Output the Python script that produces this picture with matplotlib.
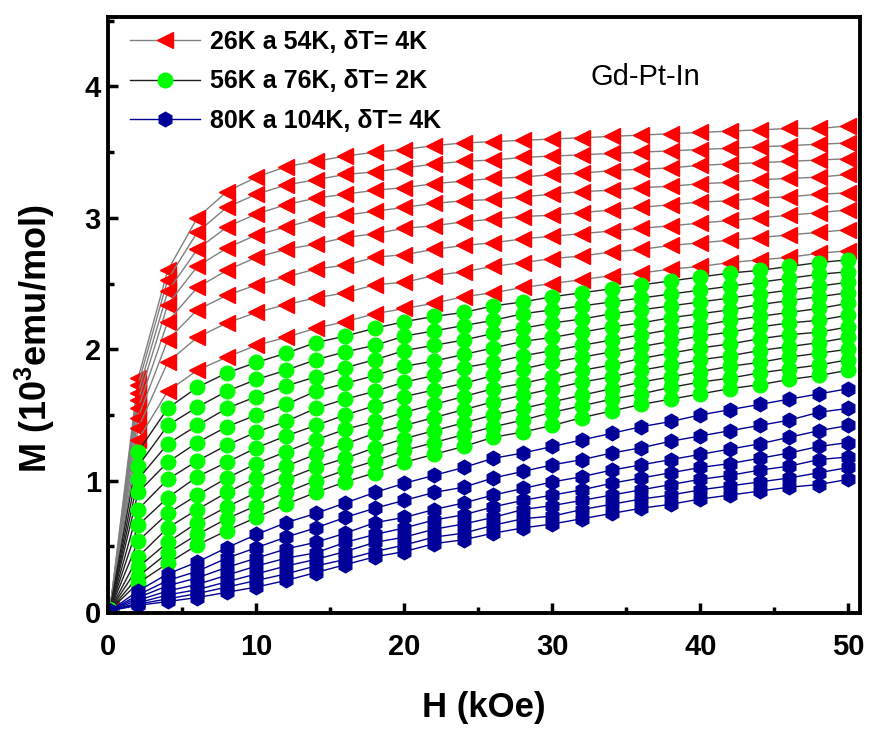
import matplotlib
matplotlib.use("Agg")
import matplotlib.pyplot as plt
from matplotlib.ticker import MultipleLocator

plt.rcParams['font.family'] = ['Liberation Sans', 'DejaVu Sans']
plt.rcParams['mathtext.fontset'] = 'custom'
plt.rcParams['mathtext.rm'] = 'Liberation Sans'
plt.rcParams['mathtext.bf'] = 'Liberation Sans:bold'

# field values (kOe)
h = [0.1, 2, 4, 6, 8, 10, 12, 14, 16, 18, 20, 22, 24, 26, 28, 30,
     32, 34, 36, 38, 40, 42, 44, 46, 48, 50]

# 26K a 54K, dT = 4K
m_red = [
    [0.02, 1.78, 2.60, 3.00, 3.20, 3.31, 3.39, 3.43, 3.47, 3.50, 3.52, 3.55, 3.57, 3.58, 3.59, 3.60, 3.61, 3.62, 3.63, 3.64, 3.65, 3.66, 3.67, 3.68, 3.68, 3.70],
    [0.02, 1.73, 2.53, 2.89, 3.08, 3.18, 3.25, 3.29, 3.33, 3.35, 3.38, 3.41, 3.43, 3.44, 3.46, 3.47, 3.48, 3.49, 3.50, 3.51, 3.52, 3.53, 3.54, 3.55, 3.56, 3.57],
    [0.02, 1.67, 2.44, 2.76, 2.93, 3.03, 3.10, 3.15, 3.18, 3.21, 3.23, 3.26, 3.28, 3.30, 3.31, 3.33, 3.34, 3.36, 3.37, 3.38, 3.40, 3.41, 3.42, 3.43, 3.44, 3.45],
    [0.02, 1.61, 2.34, 2.63, 2.77, 2.87, 2.93, 2.99, 3.02, 3.05, 3.08, 3.11, 3.13, 3.14, 3.16, 3.18, 3.20, 3.21, 3.23, 3.24, 3.26, 3.27, 3.29, 3.30, 3.31, 3.33],
    [0.02, 1.55, 2.21, 2.47, 2.60, 2.70, 2.76, 2.80, 2.85, 2.88, 2.92, 2.94, 2.97, 2.99, 3.01, 3.02, 3.04, 3.06, 3.08, 3.10, 3.12, 3.13, 3.15, 3.16, 3.18, 3.19],
    [0.02, 1.48, 2.07, 2.30, 2.41, 2.49, 2.55, 2.61, 2.64, 2.70, 2.72, 2.76, 2.79, 2.81, 2.84, 2.86, 2.88, 2.90, 2.92, 2.94, 2.96, 2.98, 3.00, 3.02, 3.04, 3.06],
    [0.02, 1.40, 1.90, 2.09, 2.20, 2.28, 2.34, 2.39, 2.43, 2.49, 2.51, 2.56, 2.59, 2.63, 2.66, 2.69, 2.71, 2.74, 2.76, 2.79, 2.81, 2.83, 2.85, 2.87, 2.89, 2.91],
    [0.02, 1.31, 1.68, 1.84, 1.94, 2.03, 2.09, 2.16, 2.21, 2.27, 2.31, 2.35, 2.40, 2.43, 2.47, 2.50, 2.53, 2.56, 2.58, 2.61, 2.63, 2.66, 2.68, 2.70, 2.73, 2.75],
]

# 56K a 76K, dT = 2K
m_green = [
    [0.015, 1.22, 1.55, 1.71, 1.82, 1.90, 1.97, 2.05, 2.10, 2.16, 2.21, 2.25, 2.28, 2.33, 2.36, 2.40, 2.43, 2.46, 2.49, 2.52, 2.55, 2.58, 2.60, 2.63, 2.66, 2.68],
    [0.015, 1.11, 1.42, 1.56, 1.68, 1.77, 1.84, 1.92, 1.98, 2.03, 2.10, 2.14, 2.18, 2.22, 2.27, 2.30, 2.33, 2.36, 2.39, 2.42, 2.45, 2.48, 2.51, 2.54, 2.57, 2.59],
    [0.015, 1.01, 1.28, 1.42, 1.55, 1.64, 1.72, 1.79, 1.86, 1.92, 1.99, 2.03, 2.07, 2.12, 2.16, 2.20, 2.23, 2.27, 2.30, 2.33, 2.36, 2.39, 2.42, 2.45, 2.48, 2.51],
    [0.015, 0.91, 1.14, 1.29, 1.41, 1.50, 1.58, 1.68, 1.74, 1.80, 1.87, 1.91, 1.96, 2.01, 2.06, 2.09, 2.13, 2.17, 2.20, 2.24, 2.27, 2.30, 2.34, 2.37, 2.40, 2.43],
    [0.015, 0.78, 1.01, 1.15, 1.27, 1.37, 1.45, 1.55, 1.62, 1.68, 1.75, 1.80, 1.86, 1.90, 1.95, 1.99, 2.03, 2.07, 2.11, 2.15, 2.18, 2.22, 2.25, 2.28, 2.31, 2.35],
    [0.015, 0.66, 0.87, 1.03, 1.14, 1.25, 1.34, 1.42, 1.50, 1.57, 1.64, 1.69, 1.74, 1.80, 1.85, 1.90, 1.94, 1.98, 2.02, 2.06, 2.10, 2.13, 2.17, 2.20, 2.22, 2.26],
    [0.015, 0.54, 0.75, 0.89, 1.02, 1.13, 1.22, 1.31, 1.39, 1.45, 1.52, 1.58, 1.64, 1.70, 1.74, 1.79, 1.84, 1.88, 1.93, 1.97, 2.01, 2.04, 2.08, 2.11, 2.13, 2.17],
    [0.015, 0.42, 0.64, 0.78, 0.91, 1.02, 1.11, 1.20, 1.28, 1.36, 1.42, 1.48, 1.54, 1.60, 1.65, 1.70, 1.75, 1.79, 1.84, 1.88, 1.92, 1.95, 1.99, 2.02, 2.05, 2.09],
    [0.015, 0.34, 0.53, 0.68, 0.80, 0.91, 1.01, 1.10, 1.17, 1.25, 1.32, 1.38, 1.44, 1.50, 1.55, 1.60, 1.65, 1.70, 1.75, 1.79, 1.83, 1.87, 1.90, 1.94, 1.97, 2.00],
    [0.015, 0.27, 0.45, 0.59, 0.71, 0.81, 0.91, 1.00, 1.08, 1.15, 1.23, 1.29, 1.35, 1.41, 1.46, 1.52, 1.57, 1.62, 1.66, 1.71, 1.75, 1.78, 1.82, 1.85, 1.88, 1.92],
    [0.015, 0.22, 0.37, 0.51, 0.62, 0.72, 0.82, 0.91, 0.99, 1.06, 1.14, 1.20, 1.26, 1.33, 1.37, 1.42, 1.48, 1.53, 1.58, 1.62, 1.66, 1.70, 1.73, 1.77, 1.80, 1.84],
]

# 80K a 104K, dT = 4K
m_blue = [
    [0.01, 0.16, 0.29, 0.38, 0.49, 0.59, 0.68, 0.75, 0.83, 0.91, 0.98, 1.04, 1.10, 1.17, 1.21, 1.26, 1.31, 1.36, 1.41, 1.45, 1.50, 1.54, 1.58, 1.62, 1.66, 1.70],
    [0.01, 0.13, 0.24, 0.31, 0.41, 0.49, 0.57, 0.64, 0.72, 0.79, 0.85, 0.91, 0.95, 1.02, 1.07, 1.12, 1.16, 1.21, 1.25, 1.30, 1.34, 1.38, 1.42, 1.46, 1.52, 1.55],
    [0.01, 0.11, 0.20, 0.26, 0.34, 0.41, 0.48, 0.53, 0.60, 0.68, 0.72, 0.78, 0.83, 0.89, 0.94, 0.99, 1.03, 1.08, 1.12, 1.16, 1.20, 1.24, 1.28, 1.33, 1.38, 1.42],
    [0.01, 0.09, 0.16, 0.21, 0.28, 0.35, 0.41, 0.45, 0.53, 0.59, 0.64, 0.70, 0.74, 0.80, 0.85, 0.89, 0.93, 0.98, 1.02, 1.06, 1.10, 1.13, 1.17, 1.21, 1.26, 1.29],
    [0.01, 0.07, 0.13, 0.17, 0.23, 0.29, 0.35, 0.40, 0.46, 0.53, 0.57, 0.63, 0.67, 0.72, 0.78, 0.81, 0.85, 0.89, 0.93, 0.97, 1.01, 1.04, 1.08, 1.11, 1.16, 1.18],
    [0.01, 0.06, 0.10, 0.14, 0.19, 0.24, 0.29, 0.35, 0.40, 0.46, 0.51, 0.57, 0.60, 0.66, 0.71, 0.73, 0.78, 0.82, 0.86, 0.89, 0.93, 0.96, 0.99, 1.02, 1.06, 1.10],
    [0.01, 0.05, 0.08, 0.11, 0.15, 0.19, 0.24, 0.30, 0.36, 0.42, 0.46, 0.52, 0.55, 0.60, 0.64, 0.67, 0.71, 0.75, 0.79, 0.82, 0.86, 0.89, 0.92, 0.95, 0.97, 1.01],
]

labels = ['26K a 54K, δT= 4K', '56K a 76K, δT= 2K', '80K a 104K, δT= 4K']

fig = plt.figure(figsize=(8.69, 7.31), dpi=100)
ax = fig.add_axes([0.124, 0.161, 0.866, 0.816])

for i, m in enumerate(m_red):
    ax.plot(h, m, color='#808080', lw=1.0, marker='<', ms=11, mfc='#ff0000',
            mec='#ff0000', label=labels[0] if i == 0 else None)
for i, m in enumerate(m_green):
    ax.plot(h, m, color='#202020', lw=1.0, marker='o', ms=10.5, mfc='#00ff00',
            mec='#00ff00', label=labels[1] if i == 0 else None)
for i, m in enumerate(m_blue):
    ax.plot(h, m, color='#000099', lw=1.0, marker='h', ms=10.5, mfc='#000099',
            mec='#000099', label=labels[2] if i == 0 else None)

ax.set_xlim(-0.05, 50.8)
ax.set_ylim(-0.01, 4.53)
ax.xaxis.set_major_locator(MultipleLocator(10))
ax.xaxis.set_minor_locator(MultipleLocator(5))
ax.yaxis.set_major_locator(MultipleLocator(1))
ax.yaxis.set_minor_locator(MultipleLocator(0.5))
ax.tick_params(which='both', direction='in', width=2.5, top=False, right=False)
ax.tick_params(which='major', length=7)
ax.tick_params(which='minor', length=4)
ax.tick_params(axis='x', which='major', pad=14)
ax.tick_params(axis='y', which='major', pad=5)
for lab in ax.get_xticklabels() + ax.get_yticklabels():
    lab.set_fontweight('bold')
    lab.set_fontsize(21)
for sp in ax.spines.values():
    sp.set_linewidth(2.8)

ax.set_xlabel('H (kOe)', fontsize=25, fontweight='bold', labelpad=22)
ax.set_ylabel(r'M (10$^{\mathbf{3}}$emu/mol)', fontsize=26, fontweight='bold')
ax.yaxis.set_label_coords(-0.068, 0.46)

ax.text(36.3, 4.07, 'Gd-Pt-In', fontsize=21, ha='center', va='center')

ax.legend(loc='upper left', bbox_to_anchor=(0.016, 0.995), frameon=False,
          prop={'weight': 'bold', 'size': 18}, handlelength=2.8,
          labelspacing=0.62, borderaxespad=0.0, handletextpad=0.4)

fig.savefig('out.png', dpi=100)
